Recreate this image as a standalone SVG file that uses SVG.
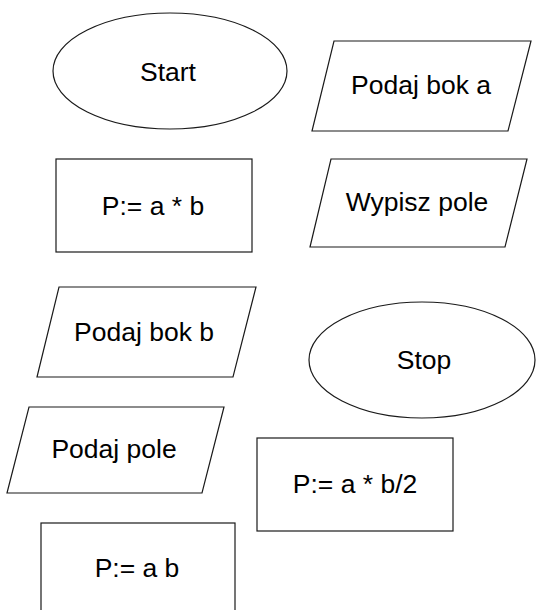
<svg xmlns="http://www.w3.org/2000/svg" width="536" height="610" viewBox="0 0 536 610">
<style>
.s{fill:#fff;stroke:#1a1a1a;stroke-width:1.2}
.t{font-family:"Liberation Sans",Arial,sans-serif;font-size:26.5px;fill:#000;text-anchor:middle}
</style>
<rect width="536" height="610" fill="#fff"/>
<g id="start"><ellipse class="s" cx="170" cy="71" rx="117" ry="58"/><text class="t" x="168" y="81">Start</text></g>
<g id="podaj-bok-a"><polygon class="s" points="334,41 531,41 508,131 312,131"/><text class="t" x="421" y="94">Podaj bok a</text></g>
<g id="calc-ab"><rect class="s" x="56" y="159" width="196" height="93"/><text class="t" x="153" y="215">P:= a * b</text></g>
<g id="wypisz-pole"><polygon class="s" points="331,159 527,159 505,247 310,247"/><text class="t" x="417" y="211">Wypisz pole</text></g>
<g id="podaj-bok-b"><polygon class="s" points="59,287 256,287 233,377 37,377"/><text class="t" x="144" y="341">Podaj bok b</text></g>
<g id="stop"><ellipse class="s" cx="422" cy="360" rx="113" ry="58"/><text class="t" x="424" y="369">Stop</text></g>
<g id="podaj-pole"><polygon class="s" points="29,407 224,407 202,493 7,493"/><text class="t" x="114" y="458">Podaj pole</text></g>
<g id="calc-ab2"><rect class="s" x="257" y="438" width="196" height="93"/><text class="t" x="355" y="493">P:= a * b/2</text></g>
<g id="calc-ab-plain"><rect class="s" x="41" y="523" width="194" height="100"/><text class="t" x="137" y="577">P:= a b</text></g>
<g id="connectors"></g>
</svg>
